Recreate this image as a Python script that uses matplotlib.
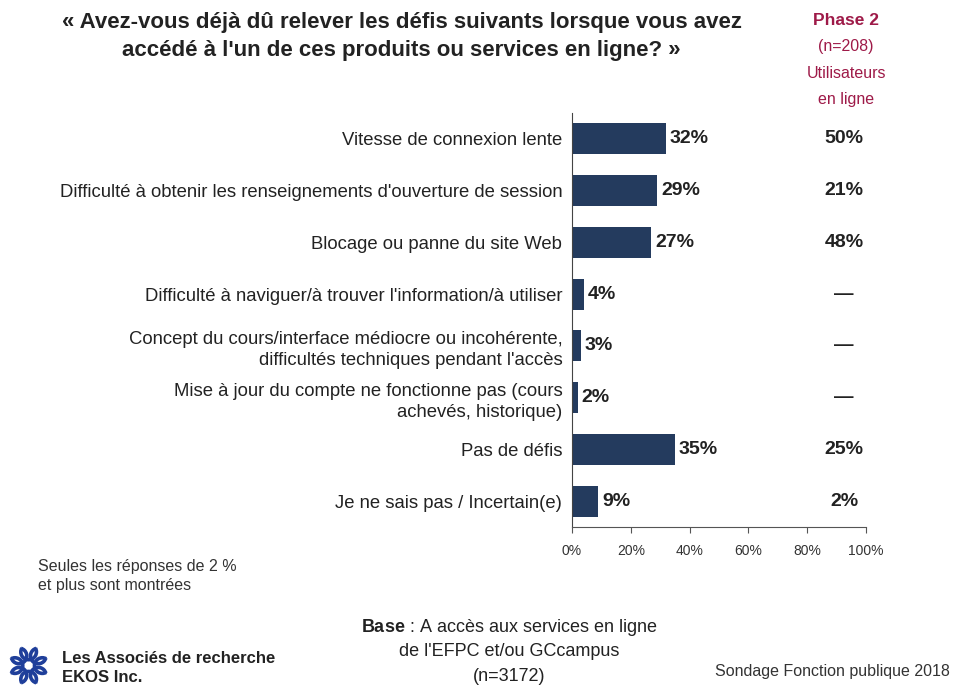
import numpy as np
import matplotlib
matplotlib.use("Agg")
import matplotlib.pyplot as plt
from matplotlib.patches import Arc

plt.rcParams['font.family'] = ['Liberation Sans', 'DejaVu Sans']
plt.rcParams['mathtext.fontset'] = 'custom'
plt.rcParams['mathtext.rm'] = 'Liberation Sans'
plt.rcParams['mathtext.bf'] = 'Liberation Sans:bold'

# Défis rencontrés (% des répondants), Phase 3 et Phase 2
categories = [
    "Vitesse de connexion lente",
    "Difficulté à obtenir les renseignements d'ouverture de session",
    "Blocage ou panne du site Web",
    "Difficulté à naviguer/à trouver l'information/à utiliser",
    "Concept du cours/interface médiocre ou incohérente,\ndifficultés techniques pendant l'accès",
    "Mise à jour du compte ne fonctionne pas (cours\nachevés, historique)",
    "Pas de défis",
    "Je ne sais pas / Incertain(e)",
]
values = [32, 29, 27, 4, 3, 2, 35, 9]
phase2 = ["50%", "21%", "48%", "--", "--", "--", "25%", "2%"]
ticks = [0, 20, 40, 60, 80, 100]

navy = "#243b5e"
maroon = "#9e1a48"

fig = plt.figure(figsize=(9.54, 6.89), dpi=100)
ax = fig.add_axes([0.5996, 0.2351, 0.3082, 0.6009])

y = np.arange(len(categories))
ax.barh(y, values, height=0.6, color=navy)
ax.set_ylim(len(categories) - 0.5, -0.5)
ax.set_xlim(0, 100)

for yi, v in zip(y, values):
    ax.text(v + 1.3, yi, f"{v}%", va="center", ha="left",
            fontsize=14, fontweight="bold", color="#222222")

# colonne Phase 2
for yi, s in zip(y, phase2):
    lab = "\u2014" if s == "--" else s
    ax.text(92.5, yi, lab, va="center", ha="center",
            fontsize=14, fontweight="bold", color="#222222")

ax.set_yticks(y)
ax.set_yticklabels(categories, fontsize=13.3, color="#222222",
                   linespacing=1.3)
ax.tick_params(axis="y", length=0, pad=7)
ax.set_xticks(ticks)
ax.set_xticklabels([f"{t}%" for t in ticks], fontsize=10, color="#333333")
ax.tick_params(axis="x", length=4, direction="out", color="#555555", pad=8)

for side in ["top", "right"]:
    ax.spines[side].set_visible(False)
ax.spines["left"].set_color("#444444")
ax.spines["bottom"].set_color("#555555")

# titre
fig.text(0.421, 0.967, "« Avez-vous déjà dû relever les défis suivants lorsque vous avez",
         ha="center", va="center", fontsize=16, fontweight="bold", color="#222222")
fig.text(0.421, 0.927, "accédé à l'un de ces produits ou services en ligne? »",
         ha="center", va="center", fontsize=16, fontweight="bold", color="#222222")

# en-tête Phase 2
fig.text(0.887, 0.970, "Phase 2", ha="center", va="center",
         fontsize=12.5, fontweight="bold", color=maroon)
fig.text(0.887, 0.932, "(n=208)", ha="center", va="center", fontsize=11.5, color=maroon)
fig.text(0.887, 0.894, "Utilisateurs", ha="center", va="center", fontsize=11.5, color=maroon)
fig.text(0.887, 0.855, "en ligne", ha="center", va="center", fontsize=11.5, color=maroon)

# notes
fig.text(0.040, 0.164, "Seules les réponses de 2 %\net plus sont montrées",
         ha="left", va="center", fontsize=11.5, color="#333333", linespacing=1.35)
fig.text(0.534, 0.089, r"$\mathbf{Base}$ : A accès aux services en ligne",
         ha="center", va="center", fontsize=13, color="#222222")
fig.text(0.534, 0.054, "de l'EFPC et/ou GCcampus",
         ha="center", va="center", fontsize=13, color="#222222")
fig.text(0.534, 0.018, "(n=3172)",
         ha="center", va="center", fontsize=13, color="#222222")
fig.text(0.996, 0.025, "Sondage Fonction publique 2018", ha="right", va="center",
         fontsize=11.5, color="#333333")
fig.text(0.065, 0.030, "Les Associés de recherche\nEKOS Inc.", ha="left", va="center",
         fontsize=12, fontweight="bold", color="#222222", linespacing=1.35)

# logo EKOS
lax = fig.add_axes([0.004, 0.0, 0.052, 0.068])
lax.set_xlim(-1.2, 1.2)
lax.set_ylim(-1.2, 1.2)
lax.set_aspect("equal")
lax.axis("off")
for k in range(8):
    a = k * 45
    cx, cy = 0.7 * np.cos(np.radians(a)), 0.7 * np.sin(np.radians(a))
    lax.add_patch(Arc((cx, cy), 0.8, 0.8, angle=a, theta1=60, theta2=300,
                      color="#1f3f9a", lw=2.6))

fig.savefig("out.png", dpi=100, facecolor="white")
